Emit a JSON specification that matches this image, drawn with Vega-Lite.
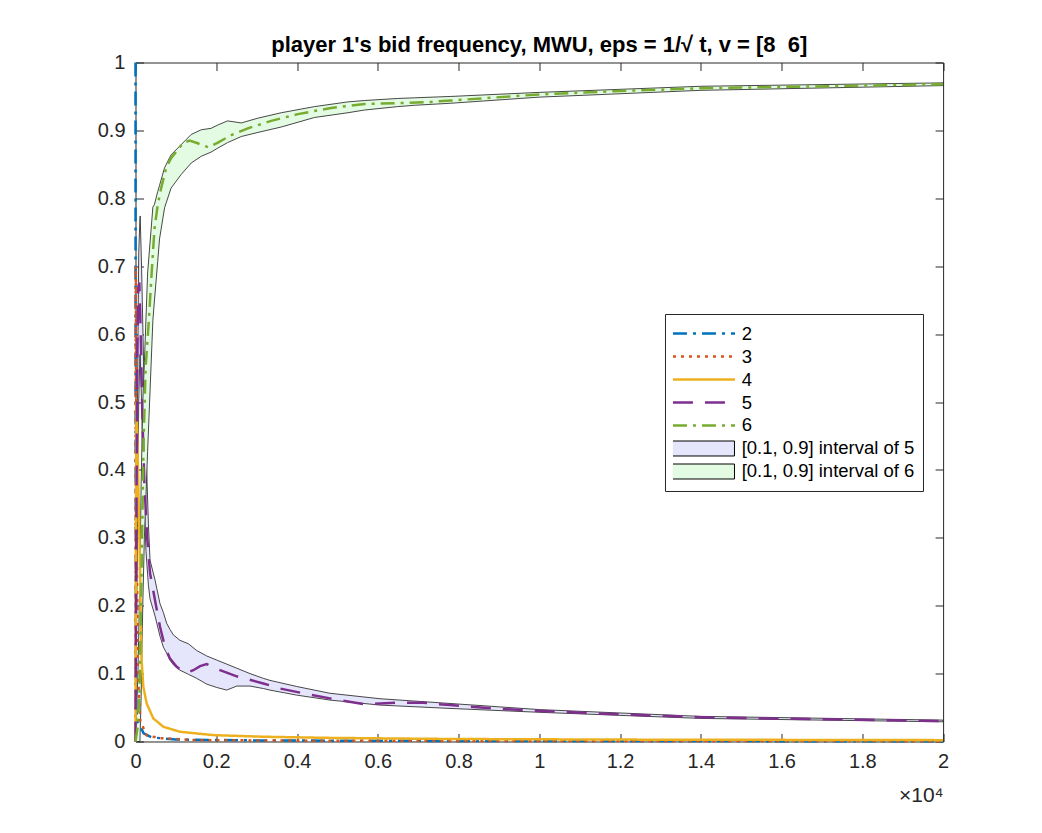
{
  "$schema": "https://vega.github.io/schema/vega-lite/v6.json",
  "autosize": {"type": "none"},
  "padding": {"left": 135.5, "top": 62.5, "right": 99, "bottom": 91.5},
  "width": 807.6,
  "height": 679,
  "background": "white",
  "title": {
    "text": "player 1's bid frequency, MWU, eps = 1/√ t, v = [8\u00a0\u00a06]",
    "fontSize": 22,
    "fontWeight": "bold",
    "font": "Liberation Sans",
    "color": "#000000",
    "anchor": "middle",
    "frame": "group",
    "baseline": "alphabetic",
    "offset": -21
  },
  "config": {
    "font": "Liberation Sans",
    "view": {"stroke": "#262626", "strokeWidth": 1},
    "axis": {
      "grid": false,
      "domain": false,
      "labelFont": "Liberation Sans",
      "labelFontSize": 20,
      "labelColor": "#262626",
      "tickColor": "#262626",
      "tickWidth": 1,
      "tickSize": -8
    }
  },
  "datasets": {
    "lines": [
      {"s": "2", "t": 0, "y": 1.0}, {"s": "2", "t": 2, "y": 0.6}, {"s": "2", "t": 5, "y": 0.3}, {"s": "2", "t": 10, "y": 0.12},
      {"s": "2", "t": 20, "y": 0.05}, {"s": "2", "t": 40, "y": 0.03}, {"s": "2", "t": 110, "y": 0.024}, {"s": "2", "t": 200, "y": 0.012},
      {"s": "2", "t": 400, "y": 0.006}, {"s": "2", "t": 1000, "y": 0.003}, {"s": "2", "t": 3000, "y": 0.0015}, {"s": "2", "t": 8000, "y": 0.0008},
      {"s": "2", "t": 20000, "y": 0.0004},

      {"s": "3", "t": 0, "y": 0.0}, {"s": "3", "t": 3, "y": 0.4}, {"s": "3", "t": 8, "y": 0.7}, {"s": "3", "t": 15, "y": 0.55},
      {"s": "3", "t": 30, "y": 0.3}, {"s": "3", "t": 60, "y": 0.1}, {"s": "3", "t": 120, "y": 0.03}, {"s": "3", "t": 277, "y": 0.009},
      {"s": "3", "t": 600, "y": 0.005}, {"s": "3", "t": 1500, "y": 0.002}, {"s": "3", "t": 5000, "y": 0.001}, {"s": "3", "t": 20000, "y": 0.0005},

      {"s": "4", "t": 0, "y": 0.0}, {"s": "4", "t": 10, "y": 0.3}, {"s": "4", "t": 25, "y": 0.5}, {"s": "4", "t": 45, "y": 0.45},
      {"s": "4", "t": 80, "y": 0.35}, {"s": "4", "t": 110, "y": 0.26}, {"s": "4", "t": 130, "y": 0.18}, {"s": "4", "t": 150, "y": 0.12},
      {"s": "4", "t": 193, "y": 0.081}, {"s": "4", "t": 277, "y": 0.056}, {"s": "4", "t": 441, "y": 0.034}, {"s": "4", "t": 690, "y": 0.0217},
      {"s": "4", "t": 1102, "y": 0.0143}, {"s": "4", "t": 1928, "y": 0.0094}, {"s": "4", "t": 3166, "y": 0.007}, {"s": "4", "t": 4817, "y": 0.0053},
      {"s": "4", "t": 7789, "y": 0.0037}, {"s": "4", "t": 12000, "y": 0.0028}, {"s": "4", "t": 20000, "y": 0.002},

      {"s": "5", "t": 0, "y": 0.0}, {"s": "5", "t": 20, "y": 0.3}, {"s": "5", "t": 45, "y": 0.58}, {"s": "5", "t": 70, "y": 0.67},
      {"s": "5", "t": 95, "y": 0.676}, {"s": "5", "t": 130, "y": 0.6}, {"s": "5", "t": 170, "y": 0.48}, {"s": "5", "t": 220, "y": 0.38},
      {"s": "5", "t": 290, "y": 0.3}, {"s": "5", "t": 360, "y": 0.248}, {"s": "5", "t": 483, "y": 0.208}, {"s": "5", "t": 607, "y": 0.169},
      {"s": "5", "t": 731, "y": 0.139}, {"s": "5", "t": 854, "y": 0.122}, {"s": "5", "t": 1020, "y": 0.11}, {"s": "5", "t": 1184, "y": 0.103},
      {"s": "5", "t": 1300, "y": 0.102}, {"s": "5", "t": 1432, "y": 0.105}, {"s": "5", "t": 1600, "y": 0.111}, {"s": "5", "t": 1763, "y": 0.114},
      {"s": "5", "t": 1930, "y": 0.109}, {"s": "5", "t": 2093, "y": 0.105}, {"s": "5", "t": 2506, "y": 0.096}, {"s": "5", "t": 3166, "y": 0.0855},
      {"s": "5", "t": 3578, "y": 0.078}, {"s": "5", "t": 4156, "y": 0.071}, {"s": "5", "t": 4817, "y": 0.0635}, {"s": "5", "t": 5643, "y": 0.055},
      {"s": "5", "t": 6468, "y": 0.057}, {"s": "5", "t": 7128, "y": 0.057}, {"s": "5", "t": 7789, "y": 0.0536}, {"s": "5", "t": 9000, "y": 0.048},
      {"s": "5", "t": 10000, "y": 0.045}, {"s": "5", "t": 12000, "y": 0.04}, {"s": "5", "t": 14000, "y": 0.0358}, {"s": "5", "t": 16000, "y": 0.0335},
      {"s": "5", "t": 18000, "y": 0.032}, {"s": "5", "t": 20000, "y": 0.03},

      {"s": "6", "t": 0, "y": 0.0}, {"s": "6", "t": 50, "y": 0.02}, {"s": "6", "t": 100, "y": 0.07}, {"s": "6", "t": 150, "y": 0.25},
      {"s": "6", "t": 200, "y": 0.44}, {"s": "6", "t": 250, "y": 0.55}, {"s": "6", "t": 330, "y": 0.62}, {"s": "6", "t": 400, "y": 0.69},
      {"s": "6", "t": 470, "y": 0.755}, {"s": "6", "t": 550, "y": 0.79}, {"s": "6", "t": 635, "y": 0.815}, {"s": "6", "t": 760, "y": 0.845},
      {"s": "6", "t": 880, "y": 0.859}, {"s": "6", "t": 1000, "y": 0.868}, {"s": "6", "t": 1170, "y": 0.881}, {"s": "6", "t": 1340, "y": 0.885},
      {"s": "6", "t": 1540, "y": 0.881}, {"s": "6", "t": 1810, "y": 0.875}, {"s": "6", "t": 2040, "y": 0.882}, {"s": "6", "t": 2370, "y": 0.893},
      {"s": "6", "t": 2780, "y": 0.903}, {"s": "6", "t": 3360, "y": 0.914}, {"s": "6", "t": 4020, "y": 0.924}, {"s": "6", "t": 4840, "y": 0.933},
      {"s": "6", "t": 5670, "y": 0.939}, {"s": "6", "t": 6490, "y": 0.94}, {"s": "6", "t": 7320, "y": 0.942}, {"s": "6", "t": 7810, "y": 0.944},
      {"s": "6", "t": 10000, "y": 0.953}, {"s": "6", "t": 12000, "y": 0.958}, {"s": "6", "t": 14000, "y": 0.962}, {"s": "6", "t": 16000, "y": 0.964},
      {"s": "6", "t": 18000, "y": 0.966}, {"s": "6", "t": 20000, "y": 0.968}
    ],
    "bands": [
      {"s": "[0.1, 0.9] interval of 5", "t": 0, "lo": 0, "hi": 0},
      {"s": "[0.1, 0.9] interval of 5", "t": 40, "lo": 0.25, "hi": 0.45},
      {"s": "[0.1, 0.9] interval of 5", "t": 80, "lo": 0.5, "hi": 0.72},
      {"s": "[0.1, 0.9] interval of 5", "t": 110, "lo": 0.57, "hi": 0.77},
      {"s": "[0.1, 0.9] interval of 5", "t": 116, "lo": 0.57, "hi": 0.774},
      {"s": "[0.1, 0.9] interval of 5", "t": 150, "lo": 0.5, "hi": 0.7},
      {"s": "[0.1, 0.9] interval of 5", "t": 200, "lo": 0.38, "hi": 0.56},
      {"s": "[0.1, 0.9] interval of 5", "t": 260, "lo": 0.28, "hi": 0.43},
      {"s": "[0.1, 0.9] interval of 5", "t": 320, "lo": 0.23, "hi": 0.32},
      {"s": "[0.1, 0.9] interval of 5", "t": 360, "lo": 0.21, "hi": 0.267},
      {"s": "[0.1, 0.9] interval of 5", "t": 483, "lo": 0.185, "hi": 0.238},
      {"s": "[0.1, 0.9] interval of 5", "t": 607, "lo": 0.155, "hi": 0.203},
      {"s": "[0.1, 0.9] interval of 5", "t": 690, "lo": 0.139, "hi": 0.19},
      {"s": "[0.1, 0.9] interval of 5", "t": 773, "lo": 0.13, "hi": 0.174},
      {"s": "[0.1, 0.9] interval of 5", "t": 854, "lo": 0.12, "hi": 0.165},
      {"s": "[0.1, 0.9] interval of 5", "t": 937, "lo": 0.113, "hi": 0.157},
      {"s": "[0.1, 0.9] interval of 5", "t": 1102, "lo": 0.105, "hi": 0.149},
      {"s": "[0.1, 0.9] interval of 5", "t": 1308, "lo": 0.099, "hi": 0.144},
      {"s": "[0.1, 0.9] interval of 5", "t": 1515, "lo": 0.093, "hi": 0.134},
      {"s": "[0.1, 0.9] interval of 5", "t": 1763, "lo": 0.0845, "hi": 0.126},
      {"s": "[0.1, 0.9] interval of 5", "t": 2010, "lo": 0.0796, "hi": 0.12},
      {"s": "[0.1, 0.9] interval of 5", "t": 2258, "lo": 0.0757, "hi": 0.114},
      {"s": "[0.1, 0.9] interval of 5", "t": 2506, "lo": 0.0816, "hi": 0.108},
      {"s": "[0.1, 0.9] interval of 5", "t": 2836, "lo": 0.0816, "hi": 0.1},
      {"s": "[0.1, 0.9] interval of 5", "t": 3166, "lo": 0.078, "hi": 0.093},
      {"s": "[0.1, 0.9] interval of 5", "t": 3331, "lo": 0.0757, "hi": 0.09},
      {"s": "[0.1, 0.9] interval of 5", "t": 3992, "lo": 0.0683, "hi": 0.081},
      {"s": "[0.1, 0.9] interval of 5", "t": 4817, "lo": 0.061, "hi": 0.071},
      {"s": "[0.1, 0.9] interval of 5", "t": 6055, "lo": 0.0536, "hi": 0.063},
      {"s": "[0.1, 0.9] interval of 5", "t": 7789, "lo": 0.0487, "hi": 0.056},
      {"s": "[0.1, 0.9] interval of 5", "t": 10000, "lo": 0.043, "hi": 0.047},
      {"s": "[0.1, 0.9] interval of 5", "t": 14000, "lo": 0.034, "hi": 0.037},
      {"s": "[0.1, 0.9] interval of 5", "t": 20000, "lo": 0.029, "hi": 0.0315},

      {"s": "[0.1, 0.9] interval of 6", "t": 0, "lo": 0, "hi": 0},
      {"s": "[0.1, 0.9] interval of 6", "t": 60, "lo": 0, "hi": 0.1},
      {"s": "[0.1, 0.9] interval of 6", "t": 110, "lo": 0, "hi": 0.25},
      {"s": "[0.1, 0.9] interval of 6", "t": 140, "lo": 0.066, "hi": 0.38},
      {"s": "[0.1, 0.9] interval of 6", "t": 180, "lo": 0.2, "hi": 0.5},
      {"s": "[0.1, 0.9] interval of 6", "t": 220, "lo": 0.3, "hi": 0.558},
      {"s": "[0.1, 0.9] interval of 6", "t": 300, "lo": 0.427, "hi": 0.69},
      {"s": "[0.1, 0.9] interval of 6", "t": 430, "lo": 0.62, "hi": 0.787},
      {"s": "[0.1, 0.9] interval of 6", "t": 470, "lo": 0.65, "hi": 0.791},
      {"s": "[0.1, 0.9] interval of 6", "t": 550, "lo": 0.707, "hi": 0.81},
      {"s": "[0.1, 0.9] interval of 6", "t": 595, "lo": 0.74, "hi": 0.819},
      {"s": "[0.1, 0.9] interval of 6", "t": 720, "lo": 0.786, "hi": 0.845},
      {"s": "[0.1, 0.9] interval of 6", "t": 880, "lo": 0.815, "hi": 0.864},
      {"s": "[0.1, 0.9] interval of 6", "t": 1130, "lo": 0.835, "hi": 0.879},
      {"s": "[0.1, 0.9] interval of 6", "t": 1380, "lo": 0.852, "hi": 0.894},
      {"s": "[0.1, 0.9] interval of 6", "t": 1630, "lo": 0.862, "hi": 0.901},
      {"s": "[0.1, 0.9] interval of 6", "t": 1870, "lo": 0.868, "hi": 0.903},
      {"s": "[0.1, 0.9] interval of 6", "t": 2040, "lo": 0.874, "hi": 0.908},
      {"s": "[0.1, 0.9] interval of 6", "t": 2280, "lo": 0.882, "hi": 0.914},
      {"s": "[0.1, 0.9] interval of 6", "t": 2620, "lo": 0.891, "hi": 0.911},
      {"s": "[0.1, 0.9] interval of 6", "t": 3030, "lo": 0.897, "hi": 0.918},
      {"s": "[0.1, 0.9] interval of 6", "t": 3610, "lo": 0.905, "hi": 0.926},
      {"s": "[0.1, 0.9] interval of 6", "t": 4430, "lo": 0.919, "hi": 0.935},
      {"s": "[0.1, 0.9] interval of 6", "t": 5260, "lo": 0.926, "hi": 0.942},
      {"s": "[0.1, 0.9] interval of 6", "t": 5670, "lo": 0.93, "hi": 0.944},
      {"s": "[0.1, 0.9] interval of 6", "t": 6490, "lo": 0.935, "hi": 0.947},
      {"s": "[0.1, 0.9] interval of 6", "t": 6910, "lo": 0.937, "hi": 0.948},
      {"s": "[0.1, 0.9] interval of 6", "t": 7810, "lo": 0.94, "hi": 0.95},
      {"s": "[0.1, 0.9] interval of 6", "t": 10000, "lo": 0.949, "hi": 0.956},
      {"s": "[0.1, 0.9] interval of 6", "t": 14000, "lo": 0.959, "hi": 0.965},
      {"s": "[0.1, 0.9] interval of 6", "t": 20000, "lo": 0.966, "hi": 0.97}
    ]
  },
  "resolve": {"axis": {"x": "independent", "y": "independent"}},
  "layer": [
    {
      "data": {"name": "bands"},
      "mark": {"type": "area", "stroke": "#1a1a1a", "strokeWidth": 0.8, "opacity": 1},
      "encoding": {
        "x": {
          "field": "t", "type": "quantitative",
          "scale": {"domain": [0, 20000], "nice": false, "zero": false},
          "axis": {
            "orient": "bottom",
            "values": [0, 2000, 4000, 6000, 8000, 10000, 12000, 14000, 16000, 18000, 20000],
            "labelExpr": "format(datum.value / 10000, '~g')",
            "labelPadding": 17.8,
            "labelFlush": false,
            "title": "×10⁴",
            "titleFont": "Liberation Sans",
            "titleFontSize": 21,
            "titleFontWeight": "normal",
            "titleColor": "#262626",
            "titleAnchor": "end",
            "titleAlign": "right",
            "titlePadding": 13
          }
        },
        "y": {
          "field": "lo", "type": "quantitative",
          "scale": {"domain": [0, 1], "nice": false, "zero": false},
          "axis": {
            "orient": "left",
            "values": [0, 0.1, 0.2, 0.3, 0.4, 0.5, 0.6, 0.7, 0.8, 0.9, 1],
            "labelExpr": "format(datum.value, '~g')",
            "labelPadding": 18.5,
            "labelFlush": false,
            "title": null
          }
        },
        "y2": {"field": "hi"},
        "fill": {
          "field": "s", "type": "nominal",
          "scale": {
            "domain": ["[0.1, 0.9] interval of 5", "[0.1, 0.9] interval of 6"],
            "range": ["#E5E5FB", "#E3FBE3"]
          },
          "legend": {
            "orient": "none",
            "legendX": 529.5,
            "legendY": 366.5,
            "title": null,
            "padding": 8,
            "rowPadding": 0,
            "clipHeight": 23,
            "labelFont": "Liberation Sans",
            "labelFontSize": 18.5,
            "labelExpr": "''",
            "labelLimit": 0,
            "labelOffset": 45.7,
            "symbolType": "M-1.13,-0.735H4.95V0.735H-1.13Z",
            "symbolSize": 416,
            "symbolStrokeColor": "#000000",
            "symbolStrokeWidth": 1,
            "symbolOpacity": 1,
            "symbolOffset": 0
          }
        }
      }
    },
    {
      "data": {"name": "lines"},
      "mark": {"type": "line", "strokeWidth": 2.5, "strokeCap": "butt"},
      "encoding": {
        "x": {
          "field": "t", "type": "quantitative",
          "axis": {
            "orient": "top",
            "values": [0, 2000, 4000, 6000, 8000, 10000, 12000, 14000, 16000, 18000, 20000],
            "labels": false,
            "title": null
          }
        },
        "y": {
          "field": "y", "type": "quantitative",
          "axis": {
            "orient": "right",
            "values": [0, 0.1, 0.2, 0.3, 0.4, 0.5, 0.6, 0.7, 0.8, 0.9, 1],
            "labels": false,
            "title": null
          }
        },
        "stroke": {
          "field": "s", "type": "nominal",
          "scale": {
            "domain": ["2", "3", "4", "5", "6", "[0.1, 0.9] interval of 5", "[0.1, 0.9] interval of 6"],
            "range": ["#0072BD", "#D95319", "#EDB120", "#7E2F8E", "#77AC30", "transparent", "transparent"]
          },
          "legend": {
            "orient": "none",
            "legendX": 529.5,
            "legendY": 251.5,
            "title": null,
            "padding": 8,
            "rowPadding": 0,
            "clipHeight": 23,
            "strokeColor": "#262626",
            "labelFont": "Liberation Sans",
            "labelFontSize": 18.5,
            "labelColor": "#000000",
            "labelLimit": 0,
            "labelOffset": 45.7,
            "symbolType": "M-1.13,0H4.95",
            "symbolSize": 416,
            "symbolStrokeWidth": 2.5,
            "symbolOpacity": 1,
            "symbolOffset": 0
          }
        },
        "strokeDash": {
          "field": "s", "type": "nominal",
          "scale": {
            "domain": ["2", "3", "4", "5", "6", "[0.1, 0.9] interval of 5", "[0.1, 0.9] interval of 6"],
            "range": [[14, 6, 3, 6], [3, 5], [1, 0], [20, 12], [14, 6, 3, 6], [1, 0], [1, 0]]
          }
        }
      }
    }
  ]
}
